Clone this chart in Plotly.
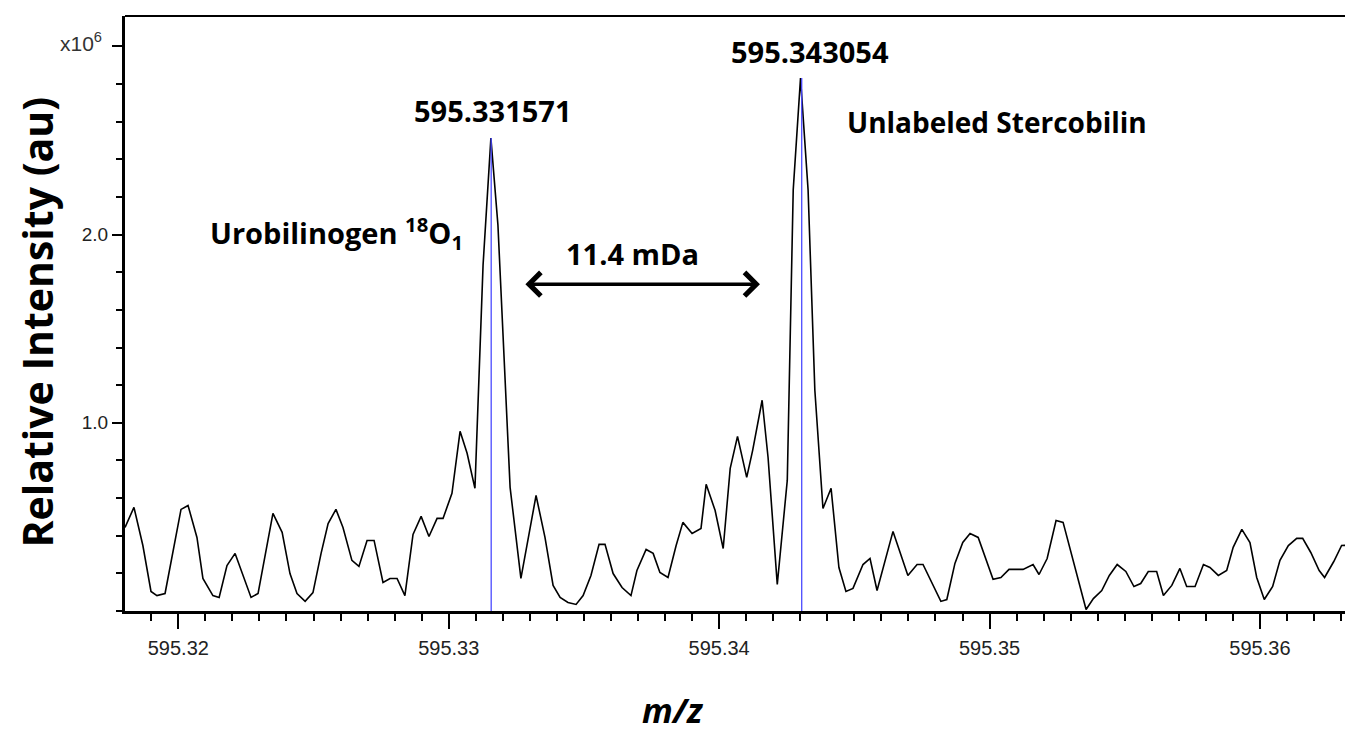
import plotly.graph_objects as go

# m/z values
mz = [595.31803, 595.31836, 595.31869, 595.31899, 595.31921, 595.31951, 595.32010, 595.32036,
      595.32069, 595.32091, 595.32128, 595.32151, 595.32180, 595.32210, 595.32269, 595.32295,
      595.32350, 595.32384, 595.32413, 595.32439, 595.32469, 595.32498, 595.32528, 595.32554,
      595.32583, 595.32609, 595.32642, 595.32668, 595.32698, 595.32724, 595.32757, 595.32783,
      595.32809, 595.32838, 595.32868, 595.32898, 595.32927, 595.32957, 595.32979, 595.33012,
      595.33042, 595.33068, 595.33097, 595.33127, 595.33156, 595.33182, 595.33227, 595.33267,
      595.33323, 595.33356, 595.33386, 595.33412, 595.33441, 595.33471, 595.33497, 595.33526,
      595.33556, 595.33578, 595.33608, 595.33641, 595.33674, 595.33696, 595.33730, 595.33756,
      595.33781, 595.33811, 595.33841, 595.33866, 595.33900, 595.33933, 595.33952, 595.33985,
      595.34015, 595.34041, 595.34068, 595.34102, 595.34124, 595.34159, 595.34181, 595.34215,
      595.34252, 595.34274, 595.34301, 595.34329, 595.34354, 595.34384, 595.34414, 595.34443,
      595.34469, 595.34495, 595.34532, 595.34558, 595.34584, 595.34643, 595.34698, 595.34732,
      595.34754, 595.34820, 595.34842, 595.34872, 595.34901, 595.34928, 595.34958, 595.35013,
      595.35042, 595.35072, 595.35124, 595.35161, 595.35183, 595.35213, 595.35246, 595.35272,
      595.35357, 595.35384, 595.35415, 595.35443, 595.35472, 595.35504, 595.35534, 595.35559,
      595.35587, 595.35618, 595.35643, 595.35674, 595.35704, 595.35729, 595.35760, 595.35791,
      595.35815, 595.35846, 595.35877, 595.35901, 595.35933, 595.35963, 595.35988, 595.36016,
      595.36047, 595.36074, 595.36105, 595.36136, 595.36158, 595.36188, 595.36219, 595.36239,
      595.36273, 595.36302, 595.36330]

# relative intensity (x10^6)
intensity = [0.444, 0.551, 0.348, 0.104, 0.082, 0.093, 0.540, 0.561,
             0.391, 0.173, 0.082, 0.072, 0.242, 0.306, 0.072, 0.093,
             0.519, 0.418, 0.199, 0.093, 0.051, 0.098, 0.306, 0.465,
             0.540, 0.444, 0.269, 0.237, 0.375, 0.375, 0.152, 0.173,
             0.173, 0.082, 0.407, 0.503, 0.396, 0.492, 0.492, 0.625,
             0.955, 0.838, 0.652, 1.838, 2.513, 2.051, 0.657, 0.173,
             0.614, 0.391, 0.136, 0.072, 0.045, 0.035, 0.082, 0.189,
             0.354, 0.354, 0.199, 0.125, 0.082, 0.215, 0.327, 0.306,
             0.205, 0.178, 0.348, 0.471, 0.412, 0.439, 0.673, 0.535,
             0.332, 0.758, 0.928, 0.710, 0.854, 1.120, 0.816, 0.141,
             0.694, 2.237, 2.832, 2.237, 1.173, 0.545, 0.652, 0.231,
             0.104, 0.120, 0.247, 0.279, 0.109, 0.423, 0.189, 0.247,
             0.247, 0.051, 0.061, 0.253, 0.364, 0.412, 0.391, 0.168,
             0.178, 0.221, 0.221, 0.247, 0.194, 0.279, 0.481, 0.471,
             0.008, 0.066, 0.109, 0.189, 0.247, 0.210, 0.130, 0.146,
             0.210, 0.210, 0.082, 0.136, 0.226, 0.130, 0.130, 0.247,
             0.231, 0.189, 0.215, 0.338, 0.434, 0.364, 0.178, 0.061,
             0.130, 0.269, 0.348, 0.386, 0.386, 0.311, 0.215, 0.178,
             0.263, 0.348, 0.350]

peak_mz = [595.331571, 595.343054]
peak_int = [2.513, 2.832]
peak_labels = ["595.331571", "595.343054"]

x_ticks = [595.32, 595.33, 595.34, 595.35, 595.36]
y_ticks = [1.0, 2.0, 3.0]
y_ticktext = ["1.0", "2.0", ""]

TXT = "Open Sans, Lato, Liberation Sans, sans-serif"
NARROW = "Liberation Sans Narrow, Arial Narrow, Liberation Sans, sans-serif"

fig = go.Figure()

fig.add_trace(go.Scatter(x=mz, y=intensity, mode="lines",
                         line=dict(color="black", width=1.6), showlegend=False,
                         hoverinfo="skip"))

for pm, pi in zip(peak_mz, peak_int):
    fig.add_trace(go.Scatter(x=[pm, pm], y=[0, pi], mode="lines",
                             line=dict(color="#4a4aff", width=1.3), showlegend=False,
                             hoverinfo="skip"))

# peak labels
fig.add_annotation(x=595.33163, y=2.662, text="<b>" + peak_labels[0] + "</b>",
                   showarrow=False, xanchor="center", yanchor="middle",
                   font=dict(family=TXT, size=29, color="black"))
fig.add_annotation(x=595.34337, y=2.971, text="<b>" + peak_labels[1] + "</b>",
                   showarrow=False, xanchor="center", yanchor="middle",
                   font=dict(family=TXT, size=29, color="black"))
fig.add_annotation(x=595.34465, y=2.598, text="<b>Unlabeled Stercobilin</b>",
                   showarrow=False, xanchor="left", yanchor="middle",
                   font=dict(family=TXT, size=28, color="black"))
fig.add_annotation(x=595.32110, y=2.01, text="<b>Urobilinogen <sup>18</sup>O<sub>1</sub></b>",
                   showarrow=False, xanchor="left", yanchor="middle",
                   font=dict(family=TXT, size=29, color="black"))
fig.add_annotation(x=595.33678, y=1.902, text="<b>11.4 mDa</b>",
                   showarrow=False, xanchor="center", yanchor="middle",
                   font=dict(family=TXT, size=29, color="black"))

# double-headed arrow
fig.add_annotation(x=595.34151, y=1.737, ax=595.33278, ay=1.737,
                   xref="x", yref="y", axref="x", ayref="y",
                   text="", showarrow=True, arrowhead=4, startarrowhead=4,
                   arrowside="end+start", arrowsize=1.3, startarrowsize=1.3,
                   arrowwidth=3.5, arrowcolor="black", standoff=0, startstandoff=0)

# exponent label
fig.add_annotation(xref="paper", yref="paper", x=-0.017, y=0.957,
                   text="x10<sup>6</sup>", showarrow=False, xanchor="right", yanchor="middle",
                   font=dict(family=NARROW, size=21, color="#333333"))

# axis titles
fig.add_annotation(xref="paper", yref="paper", x=-0.072, y=0.485,
                   text="<b>Relative Intensity (au)</b>", textangle=-90, showarrow=False,
                   xanchor="center", yanchor="middle",
                   font=dict(family=TXT, size=41, color="black"))
fig.add_annotation(xref="paper", yref="paper", x=0.449, y=-0.167,
                   text="<b><i>m/z</i></b>", showarrow=False,
                   xanchor="center", yanchor="middle",
                   font=dict(family=TXT, size=34, color="black"))

# top frame line
fig.add_shape(type="line", xref="paper", yref="paper", x0=0, x1=1, y0=1, y1=1,
              line=dict(color="black", width=2))

fig.update_xaxes(range=[595.318029, 595.363145], tickvals=x_ticks,
                 ticktext=[f"{v:.2f}" for v in x_ticks],
                 showline=True, linecolor="black", linewidth=3,
                 ticks="outside", ticklen=15, tickwidth=2, tickcolor="black",
                 ticklabelstandoff=2,
                 tickfont=dict(family=NARROW, size=20, color="#222222"),
                 minor=dict(dtick=0.001, tick0=595.32, ticks="outside", ticklen=7,
                            tickwidth=2, tickcolor="black"),
                 showgrid=False, zeroline=False)
fig.update_yaxes(range=[0, 3.162], tickvals=y_ticks, ticktext=y_ticktext,
                 showline=True, linecolor="black", linewidth=3,
                 ticks="outside", ticklen=10, tickwidth=2, tickcolor="black",
                 tickfont=dict(family=NARROW, size=19, color="#222222"),
                 minor=dict(dtick=0.2, tick0=0, ticks="outside", ticklen=6,
                            tickwidth=2, tickcolor="black"),
                 showgrid=False, zeroline=False)

fig.update_layout(width=1345, height=753, margin=dict(l=125, r=0, t=16, b=142),
                  plot_bgcolor="white", paper_bgcolor="white", showlegend=False)

fig.write_html("out.html", config={"displayModeBar": False},
               post_script="document.body.style.margin='0';document.body.style.overflow='hidden';")
